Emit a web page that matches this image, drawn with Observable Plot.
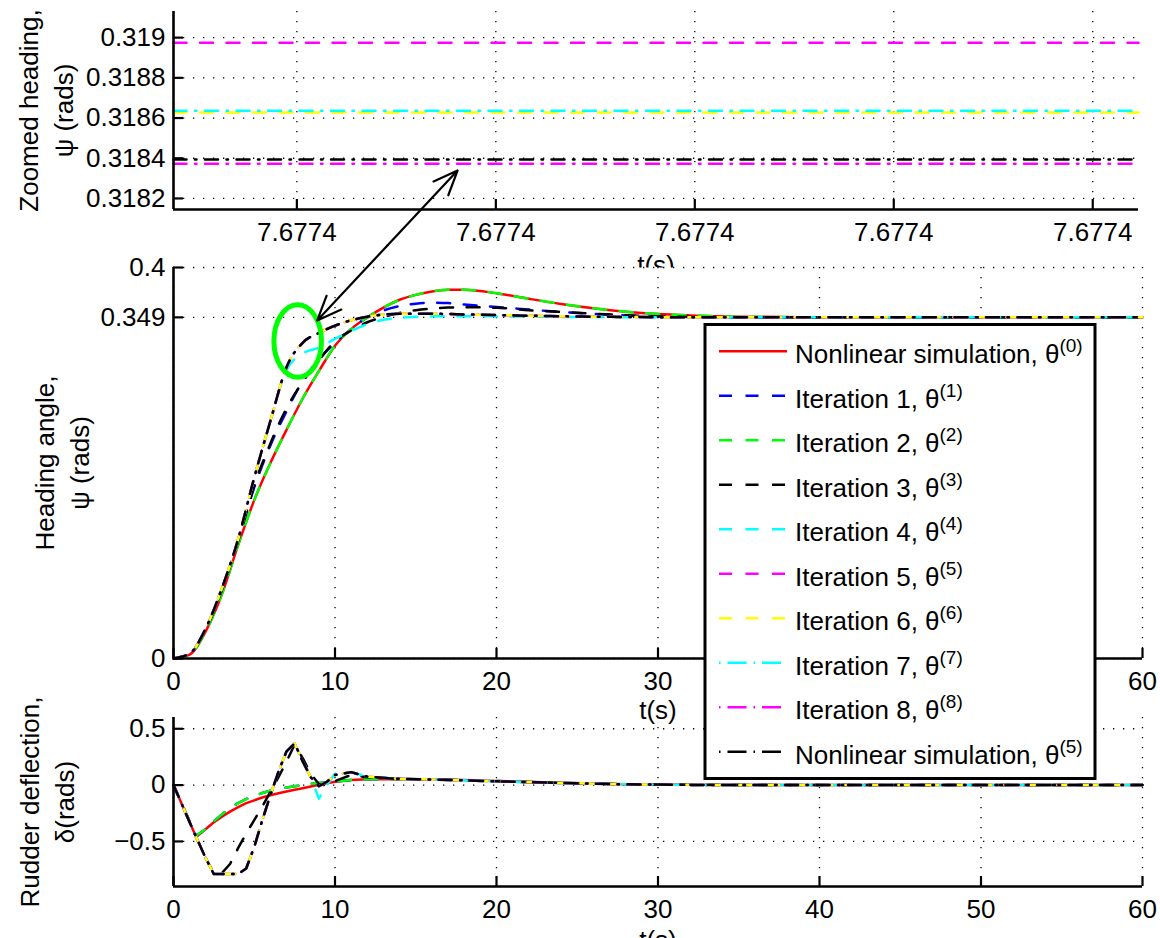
<!DOCTYPE html>
<html>
<head>
<meta charset="utf-8">
<script src="https://cdn.jsdelivr.net/npm/d3@7"></script>
<script src="https://cdn.jsdelivr.net/npm/@observablehq/plot@0.6"></script>
<style>
html, body { margin: 0; padding: 0; background: #fff; }
#fig { position: relative; width: 1160px; height: 938px; overflow: hidden; background: #fff; }
#fig > svg { position: absolute; left: 0; top: 0; }
</style>
</head>
<body>
<div id="fig"></div>
<script>
// ---------------- DATA ----------------
const seriesLabels = [
  "Nonlinear simulation, θ", "Iteration 1, θ", "Iteration 2, θ", "Iteration 3, θ",
  "Iteration 4, θ", "Iteration 5, θ", "Iteration 6, θ", "Iteration 7, θ",
  "Iteration 8, θ", "Nonlinear simulation, θ"
];
const seriesSup = ["(0)", "(1)", "(2)", "(3)", "(4)", "(5)", "(6)", "(7)", "(8)", "(5)"];

// Heading angle psi (rads) vs time t (s)
const tHeading = [0, 1, 2, 3, 4, 5, 6, 7, 8, 9, 10, 11, 12, 13, 14, 15, 16, 17, 18, 20, 22, 24, 26, 28, 30, 32, 35, 40, 50, 60];
const psiNL0 = [0, 0.004, 0.028, 0.066, 0.116, 0.162, 0.200, 0.234, 0.266, 0.294, 0.320, 0.337, 0.349, 0.359, 0.367, 0.372, 0.3755, 0.3772, 0.3772, 0.3737, 0.368, 0.3627, 0.3583, 0.3548, 0.3524, 0.351, 0.3497, 0.3491, 0.349, 0.349];
const psiIt1 = [0, 0.005, 0.030, 0.070, 0.120, 0.175, 0.218, 0.253, 0.284, 0.306, 0.323, 0.337, 0.349, 0.356, 0.3605, 0.363, 0.364, 0.3636, 0.3622, 0.3595, 0.357, 0.3545, 0.3526, 0.351, 0.350, 0.3495, 0.3491, 0.349, 0.349, 0.349];
const psiIt2 = [0, 0.004, 0.028, 0.066, 0.116, 0.162, 0.200, 0.234, 0.266, 0.294, 0.320, 0.337, 0.349, 0.359, 0.367, 0.372, 0.3755, 0.3772, 0.3772, 0.3737, 0.368, 0.3627, 0.3583, 0.3548, 0.3524, 0.351, 0.3497, 0.3491, 0.349, 0.349];
const psiIt3 = [0, 0.005, 0.030, 0.070, 0.120, 0.177, 0.220, 0.256, 0.283, 0.305, 0.3245, 0.3355, 0.344, 0.3495, 0.3535, 0.3562, 0.358, 0.359, 0.3594, 0.3588, 0.3563, 0.3545, 0.3528, 0.3512, 0.350, 0.3494, 0.349, 0.349, 0.349, 0.349];
const psiIt4 = [0, 0.005, 0.031, 0.072, 0.122, 0.185, 0.243, 0.295, 0.312, 0.318, 0.327, 0.335, 0.342, 0.3465, 0.3485, 0.3495, 0.350, 0.3502, 0.3502, 0.350, 0.3498, 0.3495, 0.3493, 0.3492, 0.3491, 0.349, 0.349, 0.349, 0.349, 0.349];
const psiIt5 = [0, 0.005, 0.031, 0.072, 0.122, 0.185, 0.243, 0.298, 0.323, 0.333, 0.3405, 0.346, 0.3497, 0.3518, 0.3527, 0.3528, 0.3527, 0.3524, 0.352, 0.3514, 0.3507, 0.3501, 0.3497, 0.3494, 0.3492, 0.3491, 0.349, 0.349, 0.349, 0.349];
const psiIt6 = [0, 0.005, 0.031, 0.072, 0.122, 0.185, 0.243, 0.298, 0.323, 0.333, 0.3405, 0.346, 0.3497, 0.3518, 0.3527, 0.3528, 0.3527, 0.3524, 0.352, 0.3514, 0.3507, 0.3501, 0.3497, 0.3494, 0.3492, 0.3491, 0.349, 0.349, 0.349, 0.349];
const psiIt7 = [0, 0.005, 0.031, 0.072, 0.122, 0.185, 0.243, 0.298, 0.323, 0.333, 0.3405, 0.346, 0.3497, 0.3518, 0.3527, 0.3528, 0.3527, 0.3524, 0.352, 0.3514, 0.3507, 0.3501, 0.3497, 0.3494, 0.3492, 0.3491, 0.349, 0.349, 0.349, 0.349];
const psiIt8 = [0, 0.005, 0.031, 0.072, 0.122, 0.185, 0.243, 0.298, 0.323, 0.333, 0.3405, 0.346, 0.3497, 0.3518, 0.3527, 0.3528, 0.3527, 0.3524, 0.352, 0.3514, 0.3507, 0.3501, 0.3497, 0.3494, 0.3492, 0.3491, 0.349, 0.349, 0.349, 0.349];
const psiNL5 = [0, 0.005, 0.031, 0.072, 0.122, 0.185, 0.243, 0.298, 0.323, 0.333, 0.3405, 0.346, 0.3497, 0.3518, 0.3527, 0.3528, 0.3527, 0.3524, 0.352, 0.3514, 0.3507, 0.3501, 0.3497, 0.3494, 0.3492, 0.3491, 0.349, 0.349, 0.349, 0.349];

// Rudder deflection delta (rads) vs time t (s)
const tRudder = [0, 1.4, 2, 2.5, 3, 3.5, 4, 4.5, 5, 5.5, 6, 6.5, 7, 7.5, 8, 8.5, 9, 9.5, 10, 11, 12, 14, 16, 18, 20, 24, 28, 32, 40, 60];
const deltaNL0 = [0, -0.46, -0.39, -0.33, -0.28, -0.235, -0.195, -0.16, -0.135, -0.11, -0.09, -0.072, -0.056, -0.042, -0.028, -0.013, 0.002, 0.017, 0.03, 0.045, 0.052, 0.055, 0.05, 0.045, 0.037, 0.02, 0.008, 0.003, 0, 0];
const deltaIt1 = [0, -0.45, -0.39, -0.32, -0.26, -0.205, -0.16, -0.125, -0.095, -0.07, -0.05, -0.035, -0.022, -0.01, 0.0, 0.01, 0.018, 0.025, 0.032, 0.045, 0.052, 0.055, 0.05, 0.045, 0.036, 0.02, 0.008, 0.003, 0, 0];
const deltaIt2 = [0, -0.45, -0.39, -0.32, -0.26, -0.205, -0.16, -0.125, -0.095, -0.07, -0.05, -0.035, -0.022, -0.01, 0.0, 0.01, 0.018, 0.025, 0.032, 0.045, 0.052, 0.055, 0.05, 0.045, 0.036, 0.02, 0.008, 0.003, 0, 0];
const deltaIt3 = [0, -0.46, -0.65, -0.78, -0.78, -0.70, -0.56, -0.43, -0.31, -0.19, -0.06, 0.07, 0.21, 0.36, 0.24, 0.10, 0.01, -0.005, 0.035, 0.09, 0.07, 0.055, 0.05, 0.042, 0.034, 0.019, 0.007, 0.002, 0, 0];
const deltaIt4 = [0, -0.46, -0.65, -0.79, -0.79, -0.79, -0.79, -0.74, -0.55, -0.31, -0.09, 0.12, 0.30, 0.37, 0.21, 0.07, -0.12, 0.0, 0.10, 0.115, 0.075, 0.055, 0.05, 0.042, 0.034, 0.019, 0.007, 0.002, 0, 0];
const deltaIt5 = [0, -0.46, -0.65, -0.79, -0.79, -0.79, -0.79, -0.74, -0.55, -0.31, -0.09, 0.12, 0.30, 0.37, 0.21, 0.07, -0.01, 0.03, 0.09, 0.115, 0.075, 0.055, 0.05, 0.042, 0.034, 0.019, 0.007, 0.002, 0, 0];
const deltaIt6 = [0, -0.46, -0.65, -0.79, -0.79, -0.79, -0.79, -0.74, -0.55, -0.31, -0.09, 0.12, 0.30, 0.37, 0.21, 0.07, -0.01, 0.03, 0.09, 0.115, 0.075, 0.055, 0.05, 0.042, 0.034, 0.019, 0.007, 0.002, 0, 0];
const deltaIt7 = [0, -0.46, -0.65, -0.79, -0.79, -0.79, -0.79, -0.74, -0.55, -0.31, -0.09, 0.12, 0.30, 0.37, 0.21, 0.07, -0.01, 0.03, 0.09, 0.115, 0.075, 0.055, 0.05, 0.042, 0.034, 0.019, 0.007, 0.002, 0, 0];
const deltaIt8 = [0, -0.46, -0.65, -0.79, -0.79, -0.79, -0.79, -0.74, -0.55, -0.31, -0.09, 0.12, 0.30, 0.37, 0.21, 0.07, -0.01, 0.03, 0.09, 0.115, 0.075, 0.055, 0.05, 0.042, 0.034, 0.019, 0.007, 0.002, 0, 0];
const deltaNL5 = [0, -0.46, -0.65, -0.79, -0.79, -0.79, -0.79, -0.74, -0.55, -0.31, -0.09, 0.12, 0.30, 0.37, 0.21, 0.07, -0.01, 0.03, 0.09, 0.115, 0.075, 0.055, 0.05, 0.042, 0.034, 0.019, 0.007, 0.002, 0, 0];

// Zoomed heading window (top panel)
const zoomWindowT = [7.6773838, 7.6774323];
const zoomSeriesIndex = [5, 6, 7, 8, 9];
const zoomPsi = [0.318974, 0.318628, 0.318636, 0.318372, 0.318394];

// Axes: ticks and domains
const zoomTicksT = [7.67739, 7.67740, 7.67741, 7.67742, 7.67743];
const zoomTicksPsi = [0.3182, 0.3184, 0.3186, 0.3188, 0.3190];
const zoomDomainPsi = [0.318145, 0.31913];
const timeTicks = [0, 10, 20, 30, 40, 50, 60];
const timeDomain = [0, 60];
const headingTicks = [0, 0.349, 0.4];
const headingDomain = [0, 0.4];
const rudderTicks = [-0.5, 0, 0.5];
const rudderDomain = [-0.9, 0.6];

// Annotations (main panel data coordinates)
const highlight = [{t: 7.69, psi: 0.3248}];
const arrowEnds = [{t: 8.9, psi: 0.3458}, {t: 17.59, psi: 0.4992}];

// ---------------- STYLE ----------------
const W = 1160, H = 938;
const FONT = '"Liberation Sans", Arial, Helvetica, sans-serif';
const FS = 26;
const DASH = "13,13.5";
const DASHDOT = "13,8.5,1.5,8.5";
const seriesStyle = [
  {stroke: "#ff0000"},
  {stroke: "#0000ff", dash: DASH},
  {stroke: "#00ff00", dash: DASH},
  {stroke: "#000000", dash: DASH},
  {stroke: "#00ffff", dash: DASH},
  {stroke: "#ff00ff", dash: DASH},
  {stroke: "#ffff00", dash: DASH},
  {stroke: "#00ffff", dash: DASHDOT},
  {stroke: "#ff00ff", dash: DASHDOT},
  {stroke: "#000000", dash: DASHDOT}
];
const psiAll = [psiNL0, psiIt1, psiIt2, psiIt3, psiIt4, psiIt5, psiIt6, psiIt7, psiIt8, psiNL5];
const deltaAll = [deltaNL0, deltaIt1, deltaIt2, deltaIt3, deltaIt4, deltaIt5, deltaIt6, deltaIt7, deltaIt8, deltaNL5];

const gridStyle = {stroke: "#000", strokeOpacity: 1, strokeWidth: 1.3, strokeDasharray: "1.3,8.7"};
const svgStyle = {background: "none", fontFamily: FONT, fontSize: FS + "px", color: "#000", overflow: "hidden"};

function lineStyle(k, width) {
  const s = seriesStyle[k];
  const o = {stroke: s.stroke, strokeWidth: width};
  if (s.dash) o.strokeDasharray = s.dash;
  return o;
}

function panelMarks({xTicks, yTicks, xFmt, yFmt, xMin, yMin, frameW, frameH, yLabel, yLabelDx, tLabelDy}) {
  return [
    Plot.gridX(xTicks, {x: d => d, ...gridStyle}),
    Plot.gridY(yTicks, {y: d => d, ...gridStyle}),
    "DATA",
    Plot.ruleX([xMin], {stroke: "#000", strokeWidth: 2.6}),
    Plot.ruleY([yMin], {stroke: "#000", strokeWidth: 2.6}),
    Plot.tickX(xTicks, {x: d => d, insetTop: frameH - 10, stroke: "#000", strokeWidth: 2.2}),
    Plot.tickY(yTicks, {y: d => d, insetRight: frameW - 10, stroke: "#000", strokeWidth: 2.2}),
    Plot.axisX({ticks: xTicks, tickSize: 0, tickPadding: 13, tickFormat: xFmt, fontSize: FS, label: null}),
    Plot.axisY({ticks: yTicks, tickSize: 0, tickPadding: 8, tickFormat: yFmt, fontSize: FS, label: null}),
    Plot.text([yLabel], {frameAnchor: "left", textAnchor: "middle", lineAnchor: "middle", rotate: -90, dx: yLabelDx, lineHeight: 1.35, fontSize: FS, fill: "#000"}),
    Plot.text(["t(s)"], {frameAnchor: "bottom", dy: tLabelDy, fontSize: FS, fill: "#000"})
  ];
}
function insertData(marks, data) {
  const i = marks.indexOf("DATA");
  return [...marks.slice(0, i), ...data, ...marks.slice(i + 1)];
}

const fmtZoomT = d => d3.format(".4f")(d);
const fmtZoomPsi = d => String(+d.toFixed(4));
const fmtPlain = d => String(d);
const fmtSigned = d => (d < 0 ? "\u2212" + Math.abs(d) : String(d));

// ---------------- TOP PANEL (zoomed heading) ----------------
const topM = {top: 11, bottom: H - 209, left: 173, right: W - 1138};
const topData = zoomSeriesIndex.map((k, j) =>
  Plot.line(zoomWindowT.map(t => ({t, v: zoomPsi[j]})), {x: "t", y: "v", ...lineStyle(k, 2.5)})
);
const topPlot = Plot.plot({
  width: W, height: H,
  marginTop: topM.top, marginBottom: topM.bottom, marginLeft: topM.left, marginRight: topM.right,
  x: {domain: zoomWindowT},
  y: {domain: zoomDomainPsi},
  style: svgStyle,
  marks: insertData(panelMarks({
    xTicks: zoomTicksT, yTicks: zoomTicksPsi, xFmt: fmtZoomT, yFmt: fmtZoomPsi,
    xMin: zoomWindowT[0], yMin: zoomDomainPsi[0],
    frameW: W - topM.left - topM.right, frameH: H - topM.top - topM.bottom,
    yLabel: "Zoomed heading,\nψ (rads)", yLabelDx: -129, tLabelDy: 64
  }), topData)
});

// ---------------- MAIN PANEL (heading angle) ----------------
const mainM = {top: 267, bottom: H - 658, left: 173, right: W - 1142};
const ellipseSymbol = {
  draw(ctx) {
    const rx = 23.8, ry = 36.2, k = 0.5523;
    ctx.moveTo(rx, 0);
    ctx.bezierCurveTo(rx, k * ry, k * rx, ry, 0, ry);
    ctx.bezierCurveTo(-k * rx, ry, -rx, k * ry, -rx, 0);
    ctx.bezierCurveTo(-rx, -k * ry, -k * rx, -ry, 0, -ry);
    ctx.bezierCurveTo(k * rx, -ry, rx, -k * ry, rx, 0);
    ctx.closePath();
  }
};
const arrowMid = {t: (arrowEnds[0].t + arrowEnds[1].t) / 2, psi: (arrowEnds[0].psi + arrowEnds[1].psi) / 2};
const arrowSegs = arrowEnds.map(e => ({x1: arrowMid.t, y1: arrowMid.psi, x2: e.t, y2: e.psi}));
const mainData = [
  ...psiAll.map((arr, k) =>
    Plot.line(tHeading.map((t, i) => ({t, v: arr[i]})), {x: "t", y: "v", curve: "monotone-x", ...lineStyle(k, 2.5)})
  ),
  Plot.dot(highlight, {x: "t", y: "psi", symbol: ellipseSymbol, stroke: "#00ff00", strokeWidth: 5, fill: "none"}),
  Plot.arrow(arrowSegs, {x1: "x1", y1: "y1", x2: "x2", y2: "y2", stroke: "#000", strokeWidth: 2.2, headLength: 18, headAngle: 45})
];
const mainPlot = Plot.plot({
  width: W, height: H,
  marginTop: mainM.top, marginBottom: mainM.bottom, marginLeft: mainM.left, marginRight: mainM.right,
  x: {domain: timeDomain},
  y: {domain: headingDomain},
  style: svgStyle,
  marks: [Plot.frame({fill: "white", stroke: "none"}), ...insertData(panelMarks({
    xTicks: timeTicks, yTicks: headingTicks, xFmt: fmtPlain, yFmt: fmtPlain,
    xMin: timeDomain[0], yMin: headingDomain[0],
    frameW: W - mainM.left - mainM.right, frameH: H - mainM.top - mainM.bottom,
    yLabel: "Heading angle,\nψ (rads)", yLabelDx: -113, tLabelDy: 60
  }), mainData)]
});

// ---------------- BOTTOM PANEL (rudder deflection) ----------------
const botM = {top: 717, bottom: H - 886, left: 173, right: W - 1142};
const botData = deltaAll.map((arr, k) =>
  Plot.line(tRudder.map((t, i) => ({t, v: arr[i]})), {x: "t", y: "v", curve: "linear", ...lineStyle(k, 2.5)})
);
const botPlot = Plot.plot({
  width: W, height: H,
  marginTop: botM.top, marginBottom: botM.bottom, marginLeft: botM.left, marginRight: botM.right,
  x: {domain: timeDomain},
  y: {domain: rudderDomain},
  style: svgStyle,
  marks: insertData(panelMarks({
    xTicks: timeTicks, yTicks: rudderTicks, xFmt: fmtPlain, yFmt: fmtSigned,
    xMin: timeDomain[0], yMin: rudderDomain[0],
    frameW: W - botM.left - botM.right, frameH: H - botM.top - botM.bottom,
    yLabel: "Rudder deflection,\nδ(rads)", yLabelDx: -128, tLabelDy: 62
  }), botData)
});

// ---------------- LEGEND ----------------
const legend = d3.create("svg")
  .attr("width", W).attr("height", H)
  .attr("font-family", FONT);
legend.append("rect")
  .attr("x", 705).attr("y", 324.5).attr("width", 390).attr("height", 454)
  .attr("fill", "#fff").attr("stroke", "#000").attr("stroke-width", 3);
seriesLabels.forEach((label, k) => {
  const y = 351.3 + 44.5 * k;
  const s = seriesStyle[k];
  const ln = legend.append("line")
    .attr("x1", 719).attr("x2", 787).attr("y1", y).attr("y2", y)
    .attr("stroke", s.stroke).attr("stroke-width", 2.5);
  if (s.dash === DASH) ln.attr("stroke-dasharray", DASH);
  if (s.dash === DASHDOT) ln.attr("stroke-dasharray", "1.5,7,19,7");
  const tx = legend.append("text").attr("x", 795).attr("y", y + 11.7).attr("font-size", FS).attr("fill", "#000");
  tx.append("tspan").text(label);
  tx.append("tspan").attr("dy", -11).attr("font-size", 19).text(seriesSup[k]);
});

// stacking: top panel, bottom panel, main panel (its white frame hides the
// lower half of the top panel's t(s) label), then the legend box
const fig = document.getElementById("fig");
fig.append(topPlot, botPlot, mainPlot, legend.node());
</script>
</body>
</html>
